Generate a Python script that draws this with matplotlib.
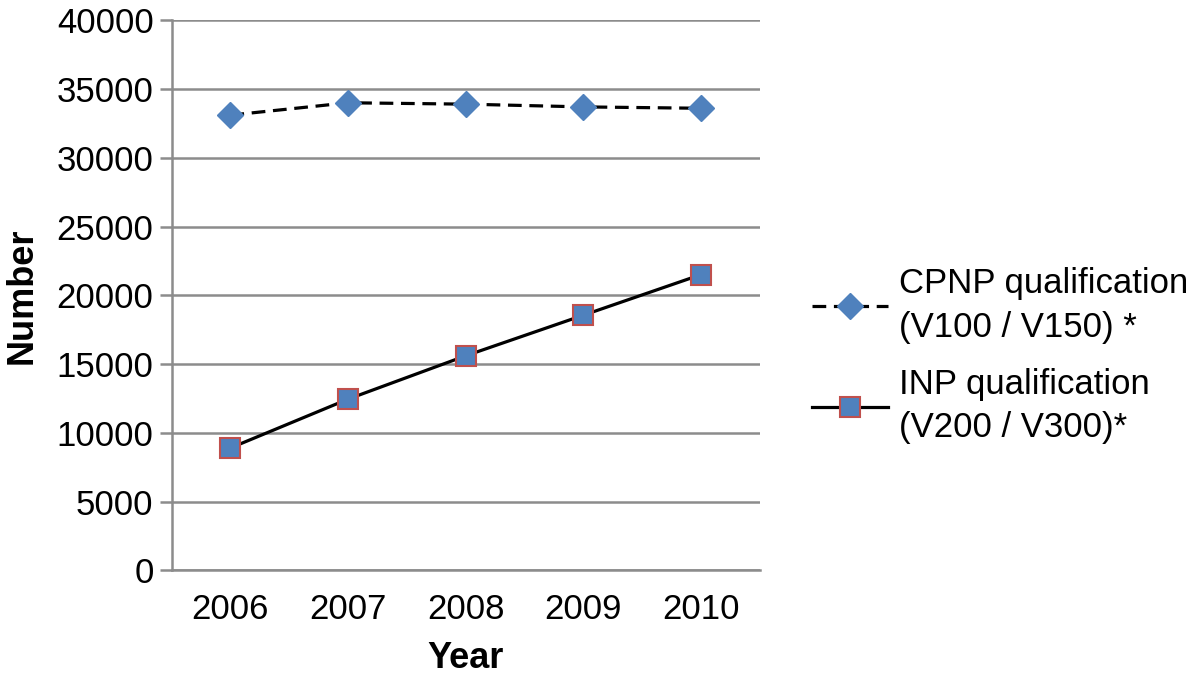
import matplotlib.pyplot as plt

plt.rcParams['font.family'] = ['Liberation Sans', 'DejaVu Sans']

years = ['2006', '2007', '2008', '2009', '2010']
cpnp = [33100, 34000, 33900, 33700, 33600]
inp = [8900, 12450, 15600, 18550, 21500]
cpnp_label = 'CPNP qualification\n(V100 / V150) *'
inp_label = 'INP qualification\n(V200 / V300)*'

grid_col = '#8c8c8c'
blue = '#4F81BD'
red = '#C0504D'
fs = 25

fig = plt.figure(figsize=(12, 6.75), dpi=100)
ax = fig.add_axes([0.143, 0.155, 0.49, 0.815])

x = list(range(len(years)))
ax.plot(x, cpnp, color='black', linestyle=(0, (4.3, 2.4)), linewidth=2.3,
        marker='D', markersize=13, markerfacecolor=blue, markeredgecolor=blue,
        label=cpnp_label, zorder=3)
ax.plot(x, inp, color='black', linestyle='-', linewidth=2.3,
        marker='s', markersize=14, markerfacecolor=blue, markeredgecolor=red,
        markeredgewidth=1.5, label=inp_label, zorder=3)

ax.set_xlim(-0.5, 4.5)
ax.set_ylim(0, 40000)
ax.set_yticks(range(0, 40001, 5000))
ax.set_xticks(x)
ax.set_xticklabels(years)
ax.yaxis.grid(True, color=grid_col, linewidth=1.8)
ax.set_axisbelow(True)

for s in ['top', 'right']:
    ax.spines[s].set_visible(False)
for s in ['left', 'bottom']:
    ax.spines[s].set_color(grid_col)
    ax.spines[s].set_linewidth(1.8)

ax.tick_params(axis='y', direction='out', length=9, width=1.8, color=grid_col,
               labelsize=fs, pad=4)
ax.tick_params(axis='x', length=0, labelsize=fs, pad=16)

ax.set_ylabel('Number', fontsize=fs + 1, fontweight='bold', labelpad=12)
ax.set_xlabel('Year', fontsize=fs + 1, fontweight='bold', labelpad=11)

leg = ax.legend(loc='center left', bbox_to_anchor=(1.036, 0.39), frameon=False,
                fontsize=fs, handlelength=2.2, labelspacing=0.7,
                handletextpad=0.3)
for t in leg.get_texts():
    t.set_linespacing(1.4)

fig.savefig('out.png', dpi=100)
